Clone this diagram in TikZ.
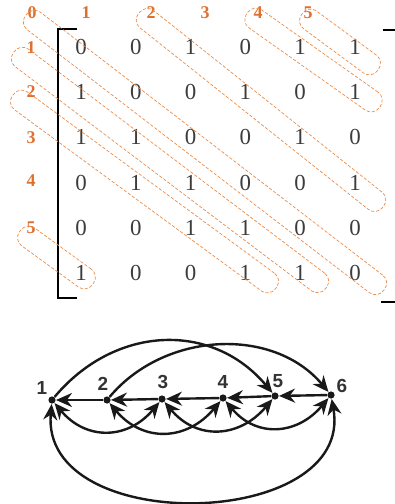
\documentclass[tikz,border=0pt]{standalone}
\usepackage{fontspec}
\setmainfont{Liberation Serif}
\newfontfamily\graphfont{Liberation Sans}
\usetikzlibrary{arrows.meta,calc}

\definecolor{diagorange}{RGB}{222,112,48}
\definecolor{boxorange}{RGB}{236,140,72}
\definecolor{digitgray}{RGB}{60,60,60}

\tikzset{
  entry/.style={text=digitgray, font=\fontsize{11.5}{12}\selectfont, inner sep=0},
  diaglabel/.style={text=diagorange, font=\fontsize{9}{9}\selectfont\bfseries, inner sep=0},
  diagbox/.style={draw=boxorange, line width=0.35bp, dash pattern=on 1.6bp off 0.9bp,
    rounded corners=5bp, minimum height=11bp, inner sep=0},
  bracket/.style={line width=1.3bp, black},
  vertex/.style={circle, fill=black!90, inner sep=0, minimum size=3.6bp},
  vlabel/.style={text=black!80, font=\graphfont\fontsize{9.5}{10}\selectfont\bfseries, inner sep=0},
  edge/.style={line width=1.2bp, black!90, -{Stealth[length=8bp,width=7bp]}},
  dedge/.style={edge, {Stealth[length=8bp,width=7bp]}-{Stealth[length=8bp,width=7bp]}},
}

\begin{document}
\begin{tikzpicture}[x=0.5bp, y=0.5bp]
  \useasboundingbox (0,0) rectangle (395,-504);

  % matrix
  \foreach \row [count=\i] in {{0,0,1,0,1,1},{1,0,0,1,0,1},{1,1,0,0,1,0},{0,1,1,0,0,1},{0,0,1,1,0,0},{1,0,0,1,1,0}}
    \foreach \v [count=\j] in \row
      \node[entry] (m\i\j) at ({81+54.8*(\j-1)},{-47-45.2*(\i-1)}) {\v};

  \draw[bracket] (77,-29) -- (58,-29) -- (58,-298) -- (77,-298);
  \draw[bracket] (383,-30) -- (395,-30);
  \draw[bracket] (381,-302) -- (395,-302);

  % diagonal labels
  \foreach \k/\x in {0/32,1/86,2/151,3/205,4/258,5/308}
    \node[diaglabel] (top\k) at (\x,-13) {\k};
  \foreach \k/\y in {1/48,2/92,3/138,4/181,5/228}
    \node[diaglabel] (left\k) at (31,-\y) {\k};

  % dashed boxes round the diagonals
  \foreach \name/\xa/\ya/\xb/\yb in {d0/26/15/384/290, up2/139/13/383/207, up4/247/13/380/107,
      up5/302/14/378/70, lo1/14/52/326/288, lo2/13/95/276/288, lo5/20/231/93/284}
    \path let \p1=($(\xb,-\yb)-(\xa,-\ya)$) in (\xa,-\ya) -- (\xb,-\yb)
      node[midway, sloped, diagbox, minimum width={veclen(\x1,\y1)}] (\name) {};

  % graph
  \foreach \k/\x/\y/\lx/\ly in {1/52/400/42/388, 2/107/400/103/384, 3/162/399/163/382,
      4/223/398/223/382, 5/275/396/278/381, 6/331/395/342/386}{
    \node[vertex] (v\k) at (\x,-\y) {};
    \node[vlabel] (l\k) at (\lx,-\ly) {\k};
  }

  \foreach \a/\b in {2/1,3/2,4/3,5/4,6/5}
    \draw[edge] (v\a) -- (v\b);
  \draw[edge] (v1) to[out=50, in=130, looseness=1.1] (v5);
  \draw[edge] (v2) to[out=50, in=130] (v6);
  \foreach \a/\b in {1/3,2/4,3/5,4/6}
    \draw[dedge] (v\a) to[out=-50, in=-130, looseness=1.2] (v\b);
  \draw[dedge] (v1) to[out=-95, in=-80, looseness=1.22] (v6);
\end{tikzpicture}
\end{document}
